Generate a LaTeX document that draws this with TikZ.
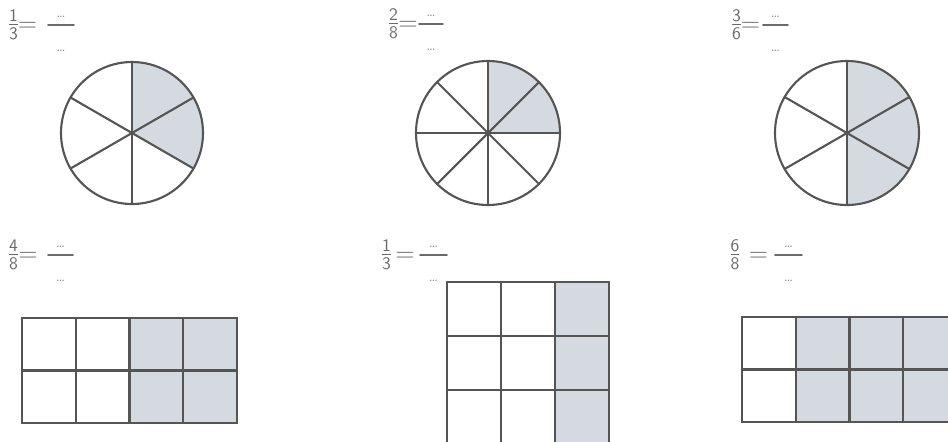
\documentclass[tikz,border=0pt]{standalone}
\usepackage{amsmath}
\usetikzlibrary{calc}
\definecolor{gLine}{HTML}{555555}
\definecolor{gText}{HTML}{6A6A6A}
\definecolor{gDots}{HTML}{808080}
\definecolor{gShade}{HTML}{D5DAE1}
\tikzset{
  sheet/.style={x=0.02cm, y=0.02cm, line cap=round, line join=round},
  part/.style={draw=gLine, line width=1.2pt},
  partFill/.style={fill=gShade},
  hub/.style={fill=gLine},
  fracLabel/.style={text=gText, font=\Large, inner sep=0pt, anchor=base},
  dotsLabel/.style={text=gDots, font=\scriptsize, inner sep=0pt},
  fracBar/.style={draw=gText, line width=1pt},
}
\newcommand{\partfrac}[2]{\frac{\mathsf{#1}}{\mathsf{#2}}}
% pie: centre x, centre y, radius, sectors, shaded sectors
\newcommand{\piechart}[5]{%
  \fill[partFill] (#1,-#2) -- ++(90:#3)
    arc[start angle=90, delta angle={-360*#5/#4}, radius=#3] -- cycle;
  \foreach \k in {1,...,#4}
    \draw[part] (#1,-#2) -- ++({90-360*\k/#4}:#3);
  \draw[part] (#1,-#2) circle[radius=#3];
  \fill[hub] (#1,-#2) circle[radius=2.4];
}
% grid: left, top, cols, rows, cell w, cell h, shaded columns
\newcommand{\cellgrid}[7]{%
  \foreach \c in {#7}
    \fill[partFill] ({#1+\c*#5},-#2) rectangle ++(#5,{-#4*#6});
  \foreach \c in {0,...,#3}
    \draw[part] ({#1+\c*#5},-#2) -- ++(0,{-#4*#6});
  \foreach \r in {0,...,#4}
    \draw[part] (#1,{-#2-\r*#6}) -- ++({#3*#5},0);
}

\begin{document}
\begin{tikzpicture}[sheet]
\useasboundingbox (0,0) rectangle (948,-441);
\clip (0,0) rectangle (948,-441);

% ============================================================
% Fill-in labels: fraction, equals sign, blank fraction
% ============================================================
\foreach \nm/\a/\b/\fx/\ex/\bl/\br/\by in {%
    A/1/3/13.5/27.5/48/74/25,
    B/2/8/393.5/408/419/443/24,
    C/3/6/736.5/750.5/763/788/25,
    D/4/8/13.5/28/48/73/255,
    E/1/3/386.5/405/420/447/255,
    F/6/8/735/758.5/775/802/255} {
  \node[fracLabel] (frac\nm) at (\fx,{-\by-6}) {$\partfrac{\a}{\b}$};
  \node[fracLabel] (eq\nm) at (\ex,{-\by-6}) {$=$};
  \coordinate (barL\nm) at (\bl,-\by);
  \coordinate (barR\nm) at (\br,-\by);
  \draw[fracBar] (barL\nm) -- (barR\nm);
  \node[dotsLabel] (num\nm) at ({(\bl+\br)/2},{-\by+8}) {\ldots};
  \node[dotsLabel] (den\nm) at ({(\bl+\br)/2},{-\by-26}) {\ldots};
}

% ============================================================
% Top row: pies
% ============================================================
\piechart{132}{133}{71}{6}{2}
\piechart{488}{133}{72}{8}{2}
\piechart{847}{133}{72}{6}{3}

% ============================================================
% Bottom row: rectangles (the last two run off the sheet)
% ============================================================
\cellgrid{22}{318}{4}{2}{53.75}{52.5}{2,3}
\cellgrid{447}{282}{3}{3}{54}{54}{2}
\cellgrid{742}{317}{4}{2}{53.75}{52.5}{1,2,3}

\end{tikzpicture}
\end{document}
